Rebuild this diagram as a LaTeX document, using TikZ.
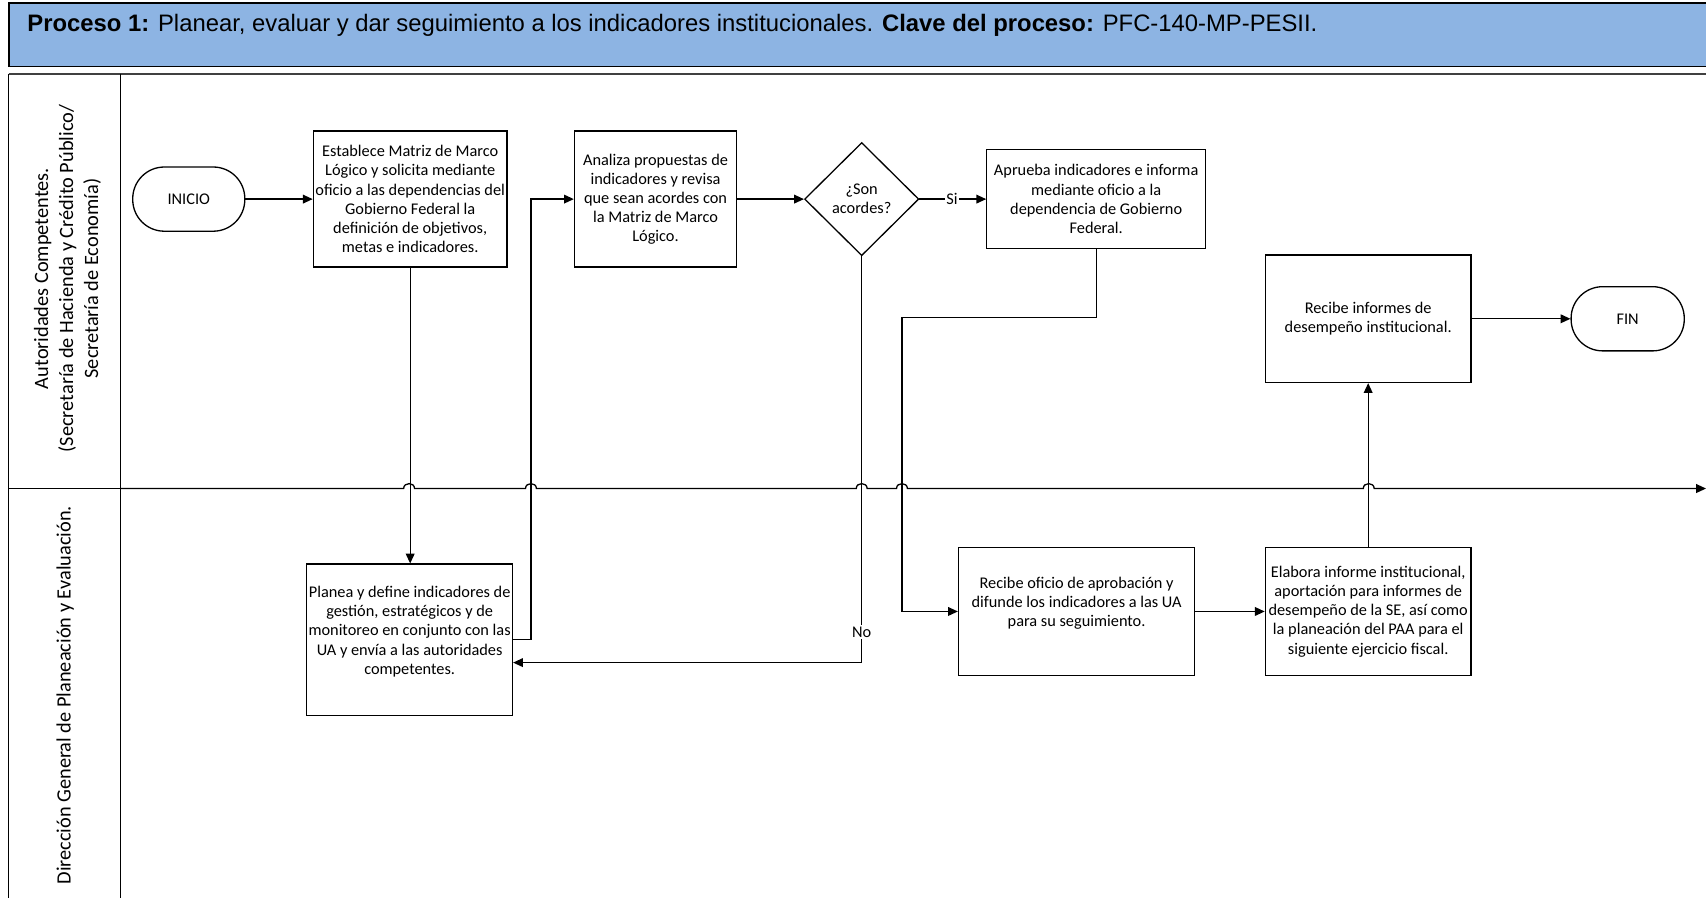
\documentclass[tikz,border=0pt]{standalone}
\usepackage{fontspec}
\setmainfont{Carlito}
\newfontfamily\arialfont{Liberation Sans}
\usetikzlibrary{arrows.meta,shapes.geometric,calc}

\definecolor{headblue}{RGB}{141,180,227}

\tikzset{
  boxtext/.style={font=\fontsize{15}{17.6}\selectfont},
  procbox/.style={draw, line width=1.2pt, fill=white, align=center, inner sep=0pt, boxtext},
  termbox/.style={draw, line width=1.2pt, fill=white, align=center, inner sep=0pt,
    rounded corners=29pt, boxtext},
  decbox/.style={draw, diamond, line width=1.2pt, fill=white, align=center, inner sep=0pt,
    minimum width=105pt, minimum height=104pt, boxtext},
  flow/.style={line width=1.2pt, -{Triangle[length=9pt,width=8pt]}},
  lanetext/.style={rotate=90, align=center, font=\fontsize{18.7}{23}\selectfont},
  tag/.style={fill=white, inner sep=1.5pt, boxtext},
}

\begin{document}
\begin{tikzpicture}[x=1pt,y=-1pt]
\useasboundingbox (0,0) rectangle (1568,825);

% title bar
\draw[line width=1.5pt, fill=headblue] (8,3) rectangle (1580,61);
\node[anchor=base west, inner sep=0pt, font=\arialfont\fontsize{21.9}{24}\selectfont]
  (title) at (25,28.5)
  {\textbf{Proceso 1:} Planear, evaluar y dar seguimiento a los indicadores institucionales. \textbf{Clave del proceso:} PFC-140-MP-PESII.};

% swimlane frame
\draw[line width=1.6pt, black!75] (8,68) -- (1580,68);
\draw[line width=1.2pt] (8,68) -- (8,830);
\draw[line width=1.2pt] (111,68) -- (111,830);
\draw[line width=1.2pt] (8,449) -- (111,449);

% lane names
\node[lanetext] (laneA) at (62,256)
  {Autoridades Competentes.\\(Secretaría de Hacienda y Crédito Público/\\Secretaría de Economía)};
\node[lanetext] (laneB) at (60,639) {Dirección General de Planeación y Evaluación.};

% lane separator, hopping over the vertical connectors
\draw[line width=1.2pt, -{Triangle[length=9pt,width=8pt]}]
  (111,449)
  -- (371,449) .. controls (371,443) and (381,443) .. (381,449)
  -- (483,449) .. controls (483,443) and (493,443) .. (493,449)
  -- (787,449) .. controls (787,443) and (797,443) .. (797,449)
  -- (824,449) .. controls (824,443) and (834,443) .. (834,449)
  -- (1253,449) .. controls (1253,443) and (1263,443) .. (1263,449)
  -- (1568,449);

% steps
\node[termbox, minimum width=103pt, minimum height=59pt] (inicio) at (173.5,183) {INICIO};
\node[procbox, minimum width=178pt, minimum height=125pt] (establece) at (377,183)
  {Establece Matriz de Marco\\Lógico y solicita mediante\\oficio a las dependencias del\\Gobierno Federal la\\definición de objetivos,\\metas e indicadores.};
\node[procbox, minimum width=149pt, minimum height=125pt] (analiza) at (602.5,183)
  {Analiza propuestas de\\indicadores y revisa\\que sean acordes con\\la Matriz de Marco\\Lógico.};
\node[decbox] (dec) at (792,183) {¿Son\\acordes?};
\node[procbox, minimum width=201pt, minimum height=91pt] (aprueba) at (1007.5,183)
  {Aprueba indicadores e informa\\mediante oficio a la\\dependencia de Gobierno\\Federal.};
\node[procbox, minimum width=189pt, minimum height=117pt] (recinf) at (1257.5,293)
  {Recibe informes de\\desempeño institucional.};
\node[termbox, minimum width=104pt, minimum height=59pt] (fin) at (1496,293) {FIN};
\node[procbox, minimum width=189pt, minimum height=139pt] (planea) at (376.5,588)
  {Planea y define indicadores de\\gestión, estratégicos y de\\monitoreo en conjunto con las\\UA y envía a las autoridades\\competentes.\\~};
\node[procbox, minimum width=217pt, minimum height=118pt] (recoficio) at (989.5,562)
  {Recibe oficio de aprobación y\\difunde los indicadores a las UA\\para su seguimiento.\\~};
\node[procbox, minimum width=189pt, minimum height=118pt] (elabora) at (1257.5,562)
  {Elabora informe institucional,\\aportación para informes de\\desempeño de la SE, así como\\la planeación del PAA para el\\siguiente ejercicio fiscal.};

% bend points
\coordinate (upjoin) at (488,588);
\coordinate (nojoin) at (792,609);
\coordinate (bendB) at (829,292);

% connectors
\draw[flow] (inicio) -- (establece);
\draw[flow] (establece.south) -- (establece.south |- planea.north);
\draw[flow] (planea.east) -- (upjoin) |- (analiza.west);
\draw[flow] (analiza) -- (dec);
\draw[flow] (dec.east) -- (aprueba.west);
\node[tag] (si) at (875,183) {Si};
\draw[flow] (dec.south) -- (nojoin) -- (planea.east |- nojoin);
\node[tag] (no) at (792,581) {No};
\draw[flow] (aprueba.south) |- (bendB) |- (recoficio.west);
\draw[flow] (recoficio) -- (elabora);
\draw[flow] (elabora) -- (recinf);
\draw[flow] (recinf) -- (fin);
\end{tikzpicture}
\end{document}
